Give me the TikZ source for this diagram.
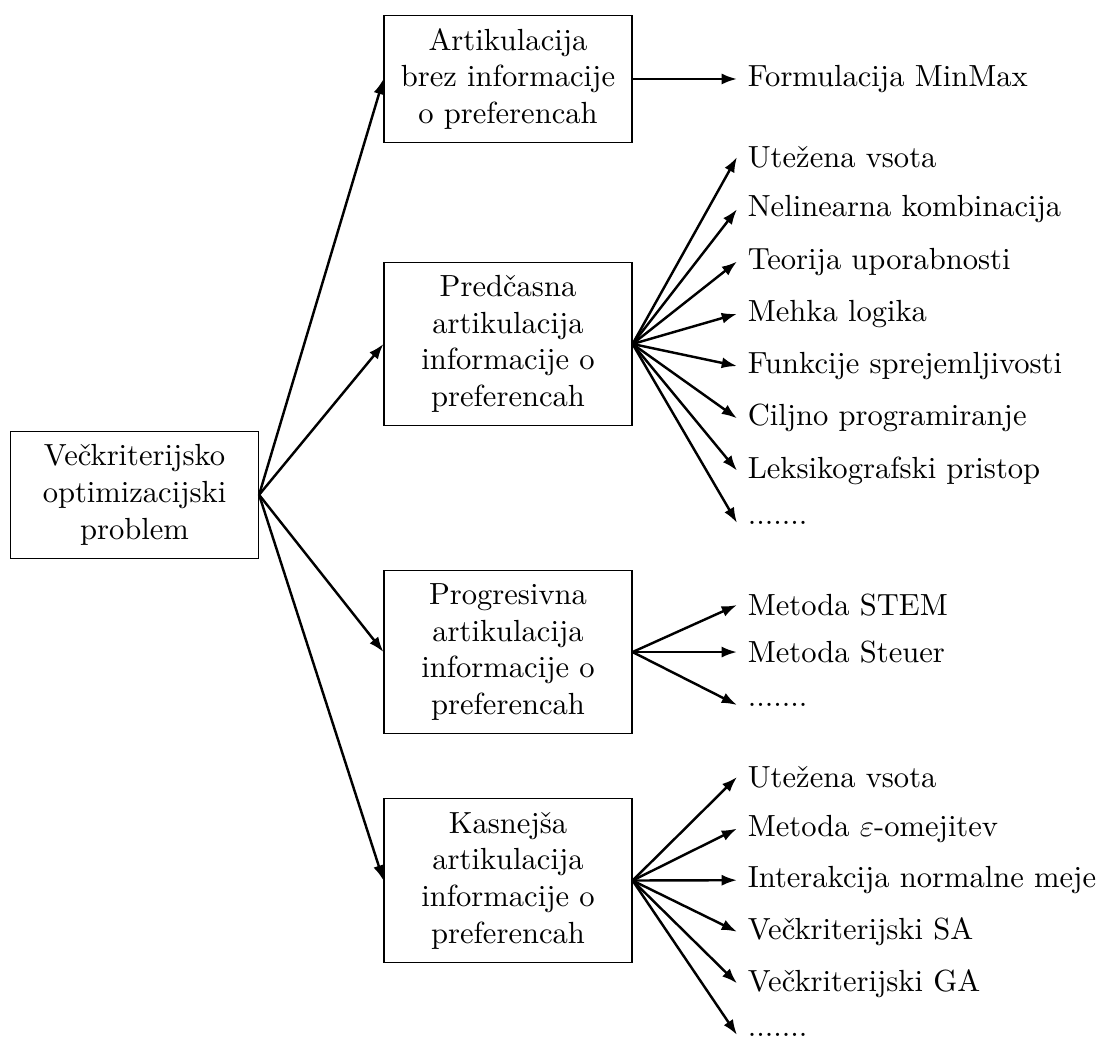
\documentclass[tikz,border=0pt]{standalone}
\usepackage{amsmath}
\usepackage{tikz}
\usetikzlibrary{arrows.meta,positioning}
\tikzset{
  artBox/.style={draw, line width=0.4pt, align=center, minimum width=2.85cm, inner xsep=3.33pt, inner ysep=4.3pt},
  method/.style={anchor=west, inner sep=3.33pt},
  branchArrow/.style={-{Latex[length=5pt,width=3.6pt]}, line width=0.8pt}
}
\newcommand{\LeafX}{8.474}
\newcommand{\etcdots}{.......}

\begin{document}
\begin{tikzpicture}
  \useasboundingbox (0,0) rectangle (12.751,-11.946);
  % root problem
  \node[artBox] (vop) at (1.547,-5.689) {Večkriterijsko\\optimizacijski\\problem};
  % four classes of methods
  \node[artBox] (brez) at (5.841,-0.908) {Artikulacija\\brez informacije\\o preferencah};
  \node[artBox] (pred) at (5.841,-3.955) {Predčasna\\artikulacija\\informacije o\\preferencah};
  \node[artBox] (prog) at (5.841,-7.497) {Progresivna\\artikulacija\\informacije o\\preferencah};
  \node[artBox] (kasn) at (5.841,-10.124) {Kasnejša\\artikulacija\\informacije o\\preferencah};
  \foreach \cls in {brez,pred,prog,kasn}
    \draw[branchArrow] (vop.east) -- (\cls.west);
  % methods per class
  \node[method] (mm) at (\LeafX,-0.908) {Formulacija MinMax};
  \draw[branchArrow] (brez.east) -- (mm.west);
  \foreach \txt [count=\i] in {Utežena vsota, Nelinearna kombinacija, Teorija uporabnosti,
      Mehka logika, Funkcije sprejemljivosti, Ciljno programiranje, Leksikografski pristop, \etcdots}{
    \node[method] (pred\i) at (\LeafX,{-1.805-0.601*(\i-1)}) {\txt};
    \draw[branchArrow] (pred.east) -- (pred\i.west);
  }
  \foreach \txt/\y [count=\i] in {Metoda STEM/-6.956, Metoda Steuer/-7.497, \etcdots/-8.106}{
    \node[method] (prog\i) at (\LeafX,\y) {\txt};
    \draw[branchArrow] (prog.east) -- (prog\i.west);
  }
  \foreach \txt [count=\i] in {Utežena vsota, Metoda $\varepsilon$-omejitev, Interakcija normalne meje,
      Večkriterijski SA, Večkriterijski GA, \etcdots}{
    \node[method] (kasn\i) at (\LeafX,{-8.934-0.593*(\i-1)}) {\txt};
    \draw[branchArrow] (kasn.east) -- (kasn\i.west);
  }
\end{tikzpicture}
\end{document}
